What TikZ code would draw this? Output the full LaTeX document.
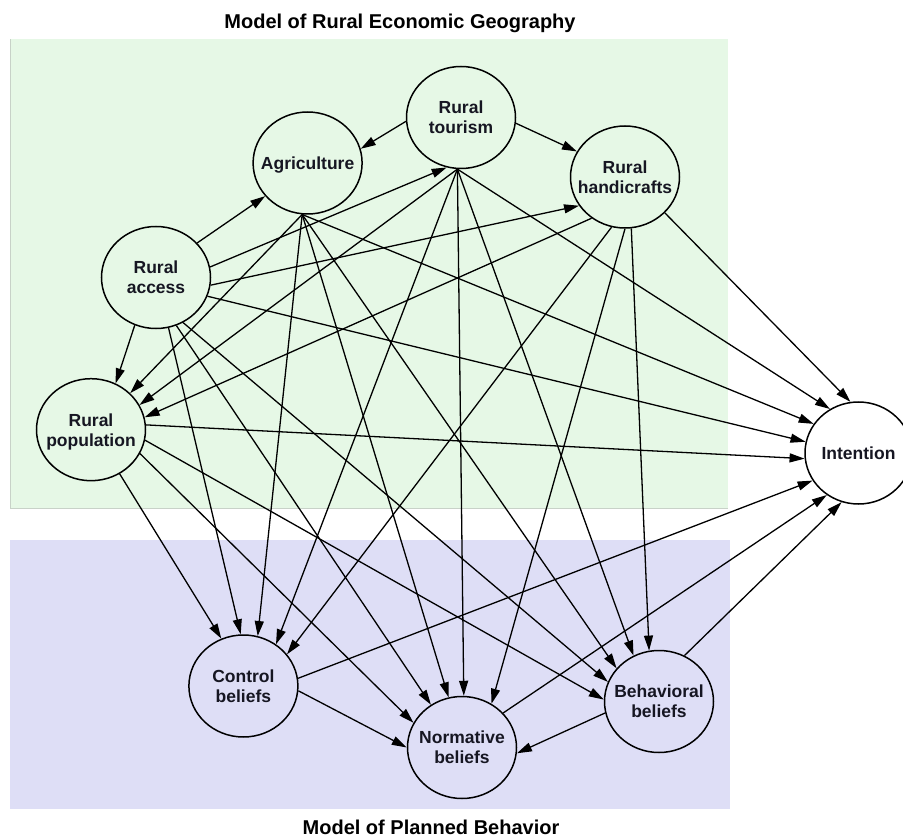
\documentclass[tikz,border=0pt]{standalone}
\usepackage{fontspec}
\setmainfont{Liberation Sans}
\usetikzlibrary{shapes.geometric,arrows.meta}
\definecolor{regbg}{RGB}{230,248,230}
\definecolor{regedge}{RGB}{200,210,200}
\definecolor{tpbbg}{RGB}{222,222,246}
\definecolor{ink}{RGB}{22,22,34}
\begin{document}
\begin{tikzpicture}[x=1pt,y=-1pt,
  var/.style={ellipse, draw=black, line width=1.5pt, minimum width=109pt,
    minimum height=102pt, inner sep=0pt},
  vlabel/.style={font=\fontsize{17.5}{20}\selectfont\bfseries, text=ink,
    align=center, text depth=0pt, inner sep=0pt},
  link/.style={line width=1.3pt, draw=black,
    -{Triangle[length=15pt,width=9pt]}},
  heading/.style={font=\fontsize{20}{24}\selectfont\bfseries, text=black,
    anchor=base, inner sep=0pt}]
\useasboundingbox (0,0) rectangle (903,837);

% background panels
\fill[regbg] (10.4,39.3) rectangle (727.5,508);
\draw[regedge, line width=0.8pt] (10.4,39.3) -- (10.4,508) -- (727.5,508);
\fill[tpbbg] (10,540) rectangle (730,809);

% panel headings
\node[heading] (hreg) at (400,28.3) {Model of Rural Economic Geography};
\node[heading] (htpb) at (431,834) {Model of Planned Behavior};

% variables
\node[var, label={[vlabel]center:Rural\\tourism}]       (T) at (461,117.5) {};
\node[var, label={[vlabel]center:Agriculture}]          (A) at (307.6,163) {};
\node[var, label={[vlabel]center:Rural\\handicrafts}]   (H) at (625,177) {};
\node[var, label={[vlabel]center:Rural\\access}]        (R) at (156,277.5) {};
\node[var, label={[vlabel]center:Rural\\population}]    (P) at (91,429.7) {};
\node[var, fill=white, minimum width=107pt, label={[vlabel]center:Intention}] (I) at (858.5,453) {};
\node[var, label={[vlabel]center:Control\\beliefs}]     (C) at (243.4,686) {};
\node[var, label={[vlabel]center:Normative\\beliefs}]   (N) at (462,747.5) {};
\node[var, label={[vlabel]center:Behavioral\\beliefs}]  (B) at (659,701.5) {};

% paths inside the economic geography block
\draw[link] (R.40)   -- (A.218);
\draw[link] (R.11)   -- (T.-106);
\draw[link] (R.-8)   -- (H.-148);
\draw[link] (R.-114) -- (P.62.5);
\draw[link] (T.-176) -- (A.15);
\draw[link] (T.-6)   -- (H.152);
\draw[link] (T.-94)  -- (P.27.5);
\draw[link] (A.-96)  -- (P.43.5);
\draw[link] (H.-129) -- (P.13);

% paths to control beliefs
\draw[link] (P.-57)  -- (C.115);
\draw[link] (R.-76)  -- (C.93);
\draw[link] (A.-96)  -- (C.74);
\draw[link] (T.-94)  -- (C.52);
\draw[link] (H.-105) -- (C.36);

% paths to normative beliefs
\draw[link] (P.-26.5) -- (N.153);
\draw[link] (R.-67)   -- (N.126);
\draw[link] (A.-96)   -- (N.105.5);
\draw[link] (T.-94)   -- (N.88.5);
\draw[link] (H.-90)   -- (N.56.7);
\draw[link] (C.-5)    -- (N.180);
\draw[link] (B.-168)  -- (N.-6);

% paths to behavioral beliefs
\draw[link] (P.-11)  -- (B.178);
\draw[link] (R.-59)  -- (B.159);
\draw[link] (A.-96)  -- (B.142);
\draw[link] (T.-94)  -- (B.119);
\draw[link] (H.-83)  -- (B.101);

% paths to intention
\draw[link] (H.-42)  -- (I.99);
\draw[link] (T.-94)  -- (I.123);
\draw[link] (A.-96)  -- (I.147.5);
\draw[link] (R.-20)  -- (I.168);
\draw[link] (P.5)    -- (I.186);
\draw[link] (C.8)    -- (I.211);
\draw[link] (N.40.5) -- (I.233);
\draw[link] (B.61)   -- (I.251);
\end{tikzpicture}
\end{document}
